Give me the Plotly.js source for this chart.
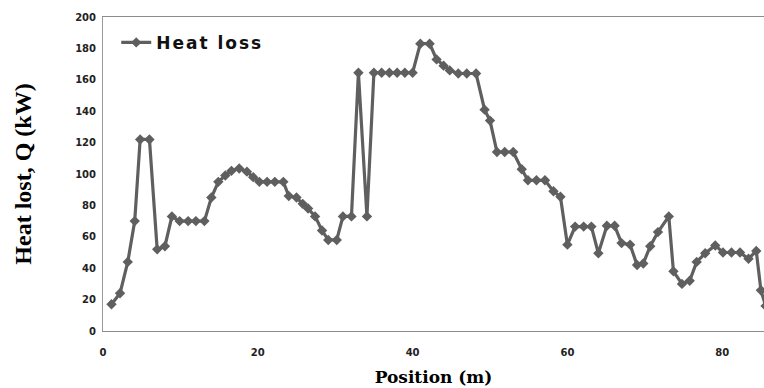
<!DOCTYPE html>
<html>
<head>
<meta charset="utf-8">
<script src="https://cdn.plot.ly/plotly-3.0.1.min.js"></script>
<style>html,body{margin:0;padding:0;background:#fff;}#chart{width:764px;height:388px;}
.legendtext{letter-spacing:2px;}</style>
</head>
<body>
<div id="chart"></div>
<script>
// Position along the line (m)
const position = [1.1, 2.2, 3.2, 4.1, 4.8, 6.0, 7.0, 8.0, 8.9, 9.9, 11.0, 12.0, 13.1,
  14.0, 14.9, 15.8, 16.6, 17.6, 18.6, 19.4, 20.2, 21.2, 22.2, 23.3, 24.0, 25.0, 25.8,
  26.5, 27.4, 28.3, 29.1, 30.2, 31.0, 32.1, 33.0, 34.1, 35.0, 36.0, 37.0, 38.0, 39.0,
  40.0, 41.0, 42.2, 43.1, 44.0, 44.8, 45.9, 47.0, 48.2, 49.3, 50.0, 50.9, 51.9, 53.0,
  54.1, 54.9, 56.0, 57.1, 58.2, 59.1, 60.0, 61.0, 62.1, 63.1, 64.0, 65.1, 66.1, 67.0,
  68.1, 69.0, 69.8, 70.7, 71.7, 73.1, 73.7, 74.8, 75.8, 76.7, 77.8, 79.1, 80.1, 81.2,
  82.3, 83.4, 84.4, 85.0, 85.6];
// Heat loss (kW)
const heatLoss = [17, 24, 44, 70, 122, 122, 52, 54, 73, 70, 70, 70, 70,
  85, 95, 99, 102, 103.5, 101.5, 98, 95, 95, 95, 95, 86, 85, 81,
  78, 73, 64, 58, 58, 73, 73, 164.5, 73, 164.5, 164.5, 164.5, 164.5, 164.5,
  164.5, 183, 183, 173, 169, 166, 164, 164, 164, 141, 134, 114, 114, 114,
  103, 96, 96, 96, 89, 85.5, 55, 66.5, 66.5, 66.5, 49.5, 67, 67, 56,
  55, 42, 43, 54, 63, 73, 38, 30, 32, 44, 49.5, 54.5, 50, 50,
  50, 46, 51, 26, 16];
const xTicks = [0, 20, 40, 60, 80];
const yTicks = [0, 20, 40, 60, 80, 100, 120, 140, 160, 180, 200];

const trace = {
  x: position, y: heatLoss, type: 'scatter', mode: 'lines+markers', name: 'Heat loss',
  line: {color: '#5f5f5f', width: 3.2},
  marker: {symbol: 'diamond', size: 8, color: '#5f5f5f'},
  cliponaxis: true
};

const tickFont = {family: 'DejaVu Sans', size: 10, color: '#222', weight: 'bold'};
const layout = {
  width: 764, height: 388,
  margin: {l: 103, r: 0, t: 17, b: 57},
  paper_bgcolor: '#fff', plot_bgcolor: '#fff',
  showlegend: true,
  legend: {x: 0.02, y: 0.975, xanchor: 'left', yanchor: 'top', bgcolor: 'rgba(0,0,0,0)',
    font: {family: 'DejaVu Sans', size: 17, color: '#111', weight: 'bold'}},
  xaxis: {
    range: [0, 85.4], tickvals: xTicks, ticktext: xTicks.map(String),
    showgrid: false, zeroline: false, showline: true, mirror: true, linecolor: '#8c8c8c', linewidth: 1,
    ticks: '', tickfont: tickFont, ticklabelstandoff: 12,
    title: {text: 'Position (m)', standoff: 14, font: {family: 'DejaVu Serif', size: 17, color: '#000', weight: 'bold'}}
  },
  yaxis: {
    range: [0, 200], tickvals: yTicks, ticktext: yTicks.map(String),
    showgrid: false, zeroline: false, showline: true, linecolor: '#9a9a9a', linewidth: 1,
    ticks: '', tickfont: tickFont, ticklabelstandoff: 4,
    title: {text: 'Heat lost, Q (kW)', standoff: 36, font: {family: 'Liberation Serif', size: 24, color: '#000', weight: 'bold'}}
  }
};
Plotly.newPlot('chart', [trace], layout, {displayModeBar: false, staticPlot: true});
</script>
</body>
</html>
